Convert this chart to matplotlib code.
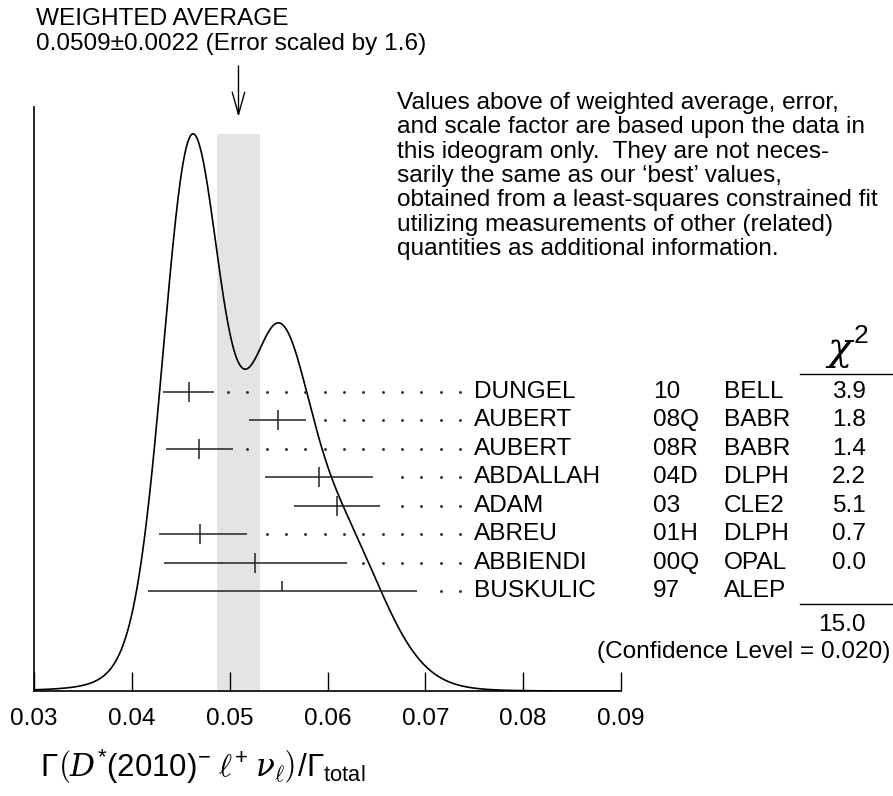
import numpy as np
import matplotlib.pyplot as plt
from matplotlib.lines import Line2D

plt.rcParams['font.family'] = ['Liberation Sans', 'DejaVu Sans']
plt.rcParams['mathtext.fontset'] = 'custom'
plt.rcParams['mathtext.rm'] = 'Liberation Sans'
plt.rcParams['mathtext.sf'] = 'Liberation Sans'
plt.rcParams['mathtext.it'] = 'DejaVu Serif:italic'

# measurements, top to bottom
authors = ['DUNGEL', 'AUBERT', 'AUBERT', 'ABDALLAH', 'ADAM', 'ABREU', 'ABBIENDI', 'BUSKULIC']
codes = ['10', '08Q', '08R', '04D', '03', '01H', '00Q', '97']
experiments = ['BELL', 'BABR', 'BABR', 'DLPH', 'CLE2', 'DLPH', 'OPAL', 'ALEP']
values = [0.0458, 0.0549, 0.0469, 0.0591, 0.0610, 0.0470, 0.0526, 0.0554]
err_lo = [0.0026, 0.0029, 0.0034, 0.0055, 0.0044, 0.0042, 0.0093, 0.0137]
err_hi = [0.0026, 0.0029, 0.0034, 0.0055, 0.0044, 0.0048, 0.0094, 0.0137]
chi2 = ['3.9', '1.8', '1.4', '2.2', '5.1', '0.7', '0.0', '']
used = [True, True, True, True, True, True, True, False]

avg = 0.0509
avg_err = 0.0022
err_scale = 1.6
chi2_total = '15.0'
conf_level = '0.020'

xticks = [0.03, 0.04, 0.05, 0.06, 0.07, 0.08, 0.09]

note = ["Values above of weighted average, error,",
        "and scale factor are based upon the data in",
        "this ideogram only.  They are not neces-",
        "sarily the same as our \u2018best\u2019 values,",
        "obtained from a least-squares constrained fit",
        "utilizing measurements of other (related)",
        "quantities as additional information."]

W, H = 893, 796
def fx(x):
    return x / W
def fy(y):
    return 1 - y / H

fs = 17.6
ax_top, ax_bot = 107, 691
fig = plt.figure(figsize=(W / 100, H / 100), dpi=100)
ax = fig.add_axes([fx(34), fy(ax_bot), fx(621) - fx(34), (ax_bot - ax_top) / H])

def ay(y):
    # pixel row -> axes fraction
    return (ax_bot - y) / (ax_bot - ax_top)

# ideogram: one gaussian per used measurement, area ~ 1/sigma
xs = np.linspace(0.03, 0.09, 800)
curve = np.zeros_like(xs)
for v, lo, hi, u in zip(values, err_lo, err_hi, used):
    if not u:
        continue
    s = np.where(xs < v, lo, hi)
    curve += np.exp(-0.5 * ((xs - v) / s) ** 2) / ((lo + hi) / 2) ** 2
peak = curve.max()

ax.fill_between([avg - avg_err, avg + avg_err], 0, peak, color='#e4e4e4', lw=0, zorder=0)
ax.plot(xs, curve, color='black', lw=1.2, zorder=3)
ax.set_xlim(0.03, 0.09)
ax.set_ylim(0, peak / 0.954)

trans = ax.get_xaxis_transform()
row0, row_step = 391.7, 28.5
tick_h = 10 / (ax_bot - ax_top)
dot_grid = 0.04983 + 0.001976 * np.arange(13)
for i, (v, lo, hi, u) in enumerate(zip(values, err_lo, err_hi, used)):
    yr = ay(row0 + i * row_step)
    ax.hlines(yr, v - lo, v + hi, transform=trans, color='#222222', lw=1.1, zorder=4)
    if u:
        ax.vlines(v, yr - tick_h, yr + tick_h, transform=trans, color='#222222', lw=1.1, zorder=4)
    else:
        ax.vlines(v, yr, yr + tick_h, transform=trans, color='#222222', lw=1.1, zorder=4)
    d = dot_grid[dot_grid > v + hi + 0.0013]
    ax.plot(d, [yr] * len(d), 'o', ms=1.1, color='#333333', transform=trans, clip_on=False, zorder=4)

    yp = fy(row0 + i * row_step)
    fig.text(fx(474), yp, authors[i], va='center', fontsize=fs)
    fig.text(fx(653), yp, codes[i], va='center', fontsize=fs)
    fig.text(fx(724), yp, experiments[i], va='center', fontsize=fs)
    fig.text(fx(866), yp, chi2[i], va='center', ha='right', fontsize=fs)

for side in ['top', 'right']:
    ax.spines[side].set_visible(False)
for side in ['left', 'bottom']:
    ax.spines[side].set_linewidth(1.2)
ax.set_yticks([])
ax.set_xticks(xticks)
ax.set_xticklabels([f'{t:.2f}' for t in xticks])
ax.tick_params(axis='x', direction='in', length=14, width=1, labelsize=17.5, pad=12)

# weighted average arrow
ax.annotate('', xy=(avg, ay(117)), xytext=(avg, ay(66)), xycoords=trans,
            arrowprops=dict(arrowstyle='->,head_length=1.6,head_width=0.45', lw=1,
                            color='black', mutation_scale=10, shrinkA=0, shrinkB=0),
            annotation_clip=False)

fig.text(fx(36), fy(19), 'WEIGHTED AVERAGE', va='center', fontsize=fs)
fig.text(fx(36), fy(44), f'{avg:.4f}\u00b1{avg_err:.4f} (Error scaled by {err_scale})',
         va='center', fontsize=fs)

for k, line in enumerate(note):
    fig.text(fx(397), fy(103 + k * 24.3), line, va='center', fontsize=fs)

# chi2 column
fig.text(fx(840), fy(350), '\u03c7', ha='center', va='center', fontsize=29,
         family='DejaVu Serif', style='italic')
fig.text(fx(861), fy(336), '2', ha='center', va='center', fontsize=19)
fig.add_artist(Line2D([fx(800), fx(892)], [fy(374), fy(374)], color='black', lw=1))
fig.add_artist(Line2D([fx(800), fx(892)], [fy(604), fy(604)], color='black', lw=1))
fig.text(fx(866), fy(625), chi2_total, ha='right', va='center', fontsize=fs)
fig.text(fx(890), fy(652), f'(Confidence Level = {conf_level})', ha='right', va='center', fontsize=fs)

fig.text(fx(40), fy(767),
         r'$\Gamma\left(D^{*}(2010)^{-}\;\ell^{+}\;\nu_{\ell}\right)/\Gamma_{\mathrm{total}}$',
         va='center', fontsize=22.5)

fig.savefig('out.png', dpi=100)
